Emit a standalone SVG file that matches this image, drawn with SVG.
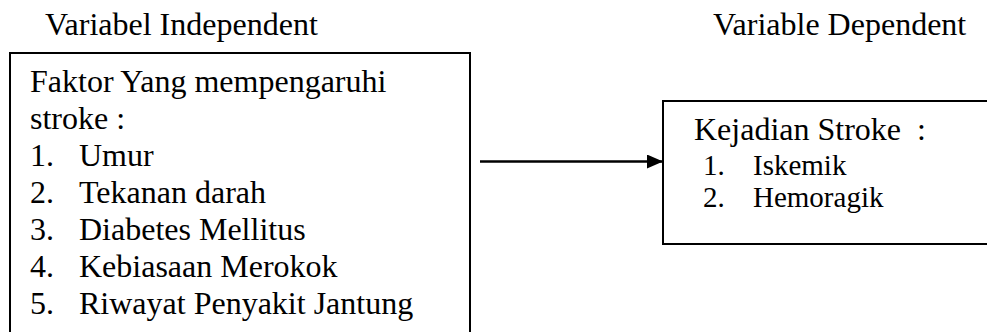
<svg xmlns="http://www.w3.org/2000/svg" width="987" height="332" viewBox="0 0 987 332">
<style>
text{font-family:"Liberation Serif","Times New Roman",serif;font-size:32px;fill:#000}
.sm{font-size:29px}
.box{fill:#fff;stroke:#000;stroke-width:2}
.conn{stroke:#000;stroke-width:2.5;fill:none}
</style>
<defs>
<marker id="arr" markerWidth="16" markerHeight="14" refX="16" refY="7" orient="auto" markerUnits="userSpaceOnUse">
<path d="M0,0 L16,7 L0,14 Z" fill="#000"/>
</marker>
</defs>
<rect width="987" height="332" fill="#fff"/>
<text x="45" y="35">Variabel Independent</text>
<text x="713" y="35">Variable Dependent</text>
<g id="independent">
<rect class="box" x="10" y="53" width="460" height="290"/>
<text x="30" y="92">Faktor Yang mempengaruhi</text>
<text x="30" y="129">stroke :</text>
<text x="30" y="166">1.</text><text x="79" y="166">Umur</text>
<text x="30" y="203">2.</text><text x="79" y="203">Tekanan darah</text>
<text x="30" y="240">3.</text><text x="79" y="240">Diabetes Mellitus</text>
<text x="30" y="277">4.</text><text x="79" y="277">Kebiasaan Merokok</text>
<text x="30" y="314">5.</text><text x="79" y="314">Riwayat Penyakit Jantung</text>
</g>
<g id="dependent">
<rect class="box" x="663" y="101" width="340" height="143"/>
<text x="694" y="140" xml:space="preserve">Kejadian Stroke  :</text>
<text class="sm" x="703" y="175">1.</text><text class="sm" x="753" y="175">Iskemik</text>
<text class="sm" x="703" y="207">2.</text><text class="sm" x="753" y="207">Hemoragik</text>
</g>
<g id="connectors">
<line class="conn" x1="480" y1="161.5" x2="663" y2="161.5" marker-end="url(#arr)"/>
</g>
</svg>
